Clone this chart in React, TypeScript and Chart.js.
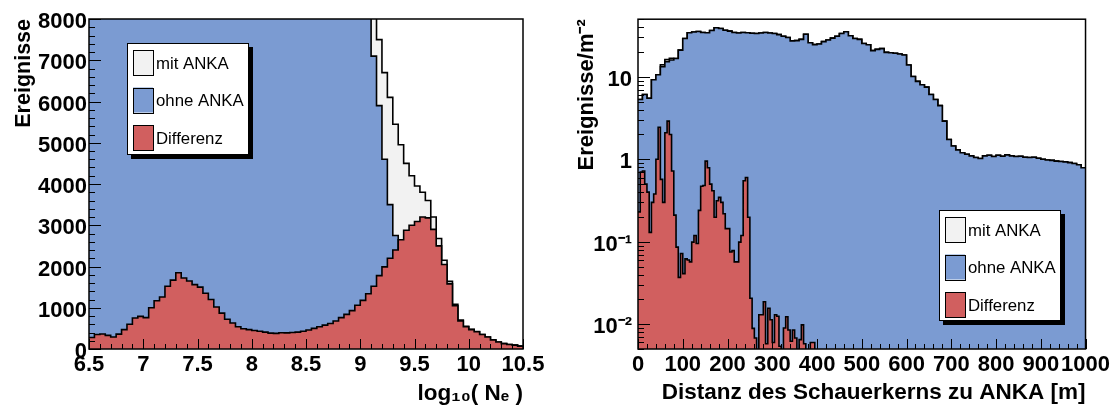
import React, { useEffect, useRef } from "react";
import { Chart, registerables } from "chart.js";

Chart.register(...registerables);

const FONT = "'Liberation Sans', Arial, Helvetica, sans-serif";

// ---------------- Left panel: log10(Ne) ----------------
const LEFT_BIN_START = 6.5;
const LEFT_BIN_WIDTH = 0.05;

const leftMitAnka = [
  52280, 54350, 55365, 55830, 55290, 54360, 52470, 50600, 48750, 46790,
  44760, 43000, 41170, 39260, 38020, 36670, 35350, 33720, 32150, 30560,
  29000, 27350, 26000, 24620, 23370, 22220, 21130, 20140, 19290, 18470,
  17750, 17030, 16410, 15785, 15180, 14695, 14190, 13700, 13210, 12830,
  12460, 12100, 11740, 11480, 11220, 10980, 10760, 10540, 10330, 10160,
  9980, 9640, 8600, 7500, 6700, 6100, 5450, 4950, 4500, 4200,
  3950, 3800, 3600, 3200, 2680, 2150, 1640, 1085, 700, 552,
  478, 425, 353, 292, 221, 171, 130, 110, 95, 70,
];

const leftOhneAnka = [
  52000, 54000, 55000, 55500, 55000, 54000, 52000, 50000, 48000, 46000,
  44000, 42000, 40000, 38000, 36500, 35000, 33500, 32000, 30500, 29000,
  27500, 26000, 24800, 23600, 22500, 21500, 20500, 19600, 18800, 18000,
  17300, 16600, 16000, 15400, 14800, 14300, 13800, 13300, 12800, 12400,
  12000, 11600, 11200, 10900, 10600, 10300, 10000, 9700, 9400, 9100,
  8800, 8300, 7100, 5900, 4600, 3500, 2750, 2200, 1700, 1300,
  950, 680, 470, 300, 180, 100, 60, 35, 20, 12,
  8, 5, 3, 2, 1, 1, 0, 0, 0, 0,
];

const leftDifferenz = [
  280, 350, 365, 330, 290, 360, 470, 600, 750, 790,
  760, 1000, 1170, 1260, 1520, 1670, 1850, 1720, 1650, 1560,
  1500, 1350, 1200, 1020, 870, 720, 630, 540, 490, 470,
  450, 430, 410, 385, 380, 395, 390, 400, 410, 430,
  460, 500, 540, 580, 620, 680, 760, 840, 930, 1060,
  1180, 1340, 1520, 1780, 1990, 2200, 2400, 2650, 2880, 3000,
  3090, 3200, 3180, 2900, 2500, 2050, 1580, 1050, 680, 540,
  470, 420, 350, 290, 220, 170, 130, 110, 95, 70,
];

const LEFT_X_TICKS = [6.5, 7, 7.5, 8, 8.5, 9, 9.5, 10, 10.5];
const LEFT_Y_TICKS = [0, 1000, 2000, 3000, 4000, 5000, 6000, 7000, 8000];

// ---------------- Right panel: distance to ANKA ----------------
const RIGHT_COARSE_BIN_WIDTH = 10;
const RIGHT_FINE_BIN_WIDTH = 5;

const rightMitAnka = [
  5.3, 6.1, 5.5, 9.2, 10.6, 14.0, 16.2, 16.8, 16.7, 21.1,
  29.2, 34.2, 35.0, 35.5, 34.5, 34.2, 36.5, 39.4, 38.5, 36.7,
  35.8, 34.5, 34.0, 34.5, 34.2, 33.8, 33.6, 34.0, 34.5, 34.0,
  33.6, 32.5, 31.0, 30.0, 27.3, 27.5, 28.5, 32.9, 25.9, 24.6,
  25.0, 26.7, 28.0, 29.5, 31.1, 33.5, 35.2, 31.5, 29.2, 28.5,
  25.4, 24.5, 20.8, 21.5, 22.0, 19.8, 19.6, 19.3, 18.9, 18.4,
  13.9, 10.1, 8.8, 8.0, 7.5, 6.1, 5.3, 4.47, 2.9, 1.74,
  1.45, 1.30, 1.20, 1.15, 1.10, 1.05, 1.02, 1.10, 1.12, 1.08,
  1.12, 1.09, 1.13, 1.10, 1.08, 1.09, 1.06, 1.05, 1.06, 1.03,
  1.00, 0.98, 0.97, 0.95, 0.94, 0.93, 0.91, 0.89, 0.86, 0.79,
];

const rightOhneAnka = [
  5.3, 6.1, 5.5, 9.2, 10.6, 13.3, 15.3, 16.0, 16.7, 21.1,
  29.2, 34.2, 35.0, 35.5, 34.5, 34.2, 36.5, 39.4, 38.5, 36.7,
  35.8, 34.5, 34.0, 34.5, 34.2, 33.8, 33.6, 34.0, 34.5, 34.0,
  33.6, 32.5, 31.0, 30.0, 27.3, 27.5, 28.5, 32.9, 25.9, 24.6,
  25.0, 26.7, 28.0, 29.5, 31.1, 33.5, 35.2, 31.5, 29.2, 28.5,
  25.4, 24.5, 20.8, 21.5, 22.0, 19.8, 19.6, 19.3, 18.9, 18.4,
  13.9, 10.1, 8.8, 8.0, 7.5, 6.1, 5.3, 4.47, 2.9, 1.74,
  1.45, 1.30, 1.20, 1.15, 1.10, 1.05, 1.02, 1.10, 1.12, 1.08,
  1.12, 1.09, 1.13, 1.10, 1.08, 1.09, 1.06, 1.05, 1.06, 1.03,
  1.00, 0.98, 0.97, 0.95, 0.94, 0.93, 0.91, 0.89, 0.86, 0.79,
];

const rightDifferenz = [
  0.23, 0.70, 0.72, 0.50, 0.40, 0.13, 0.30, 0.38, 1.0, 2.45,
  0.57, 0.30, 2.1, 2.9, 2.0, 0.72, 0.21, 0.086, 0.037, 0.072,
  0.041, 0.062, 0.060, 0.057, 0.099, 0.119, 0.095, 0.24, 0.47, 0.48,
  0.95, 0.79, 0.50, 0.415, 0.198, 0.314, 0.345, 0.30, 0.218, 0.144,
  0.144, 0.075, 0.078, 0.057, 0.057, 0.099, 0.119, 0.548, 0.60, 0.198,
  0.0206, 0.0089, 0.0068, 0.004, 0.013, 0.013, 0.0187, 0.0058, 0.0156, 0.0113,
  0.006, 0.013, 0.0125, 0.0054, 0.003, 0.009, 0.0123, 0.0085, 0.0062, 0.0085,
  0.0068, 0.004, 0.0065, 0.0098, 0.0058, 0.004, 0.003, 0.006, 0.006, 0.003,
];

const RIGHT_X_TICKS = [0, 100, 200, 300, 400, 500, 600, 700, 800, 900, 1000];
const RIGHT_Y_TICKS = [0.01, 0.1, 1, 10];
const RIGHT_Y_LABELS = ["10\u207B\u00B2", "10\u207B\u00B9", "1", "10"];

const SERIES_LABELS = ["mit ANKA", "ohne ANKA", "Differenz"];
const SERIES_COLORS = ["#f2f2f2", "#7b9bd2", "#d15f5f"];

type Pt = { x: number; y: number };

function histPoints(values: number[], start: number, width: number): Pt[] {
  const pts = values.map((v, i) => ({ x: start + i * width, y: v }));
  pts.push({ x: start + values.length * width, y: values[values.length - 1] });
  return pts;
}

function histDataset(label: string, color: string, data: Pt[]) {
  return {
    label,
    data,
    stepped: true,
    fill: "start",
    backgroundColor: color,
    borderColor: "#000",
    borderWidth: 1.6,
    pointRadius: 0,
    tension: 0,
    clip: 0,
  };
}

type FrameOpts = {
  xMajor: number[];
  xMinor: number[];
  yMajor: number[];
  yMinor: number[];
  xMajorLen: number;
  xMinorLen: number;
  yMajorLen: number;
  yMinorLen: number;
  legend: { x: number; y: number; w: number; h: number };
};

function makeFramePlugin(o: FrameOpts) {
  return {
    id: "rootFrame",
    afterDatasetsDraw(chart: any) {
      const { ctx, chartArea: a } = chart;
      const xs = chart.scales.x;
      const ys = chart.scales.y;
      ctx.save();
      ctx.strokeStyle = "#000";
      ctx.lineWidth = 1;
      ctx.beginPath();
      const xTick = (v: number, len: number) => {
        const p = Math.round(xs.getPixelForValue(v)) + 0.5;
        ctx.moveTo(p, a.bottom);
        ctx.lineTo(p, a.bottom - len);
      };
      const yTick = (v: number, len: number) => {
        const p = Math.round(ys.getPixelForValue(v)) + 0.5;
        ctx.moveTo(a.left, p);
        ctx.lineTo(a.left + len, p);
      };
      o.xMinor.forEach((v) => xTick(v, o.xMinorLen));
      o.xMajor.forEach((v) => xTick(v, o.xMajorLen));
      o.yMinor.forEach((v) => yTick(v, o.yMinorLen));
      o.yMajor.forEach((v) => yTick(v, o.yMajorLen));
      ctx.stroke();
      ctx.lineWidth = 1.5;
      ctx.strokeRect(a.left, a.top, a.right - a.left, a.bottom - a.top);
      ctx.restore();
    },
    afterDraw(chart: any) {
      const ctx = chart.ctx;
      const L = o.legend;
      ctx.save();
      ctx.fillStyle = "#000";
      ctx.fillRect(L.x + 4, L.y + 4, L.w, L.h);
      ctx.fillStyle = "#fff";
      ctx.fillRect(L.x, L.y, L.w, L.h);
      ctx.strokeStyle = "#000";
      ctx.lineWidth = 1;
      ctx.strokeRect(L.x + 0.5, L.y + 0.5, L.w - 1, L.h - 1);
      ctx.font = `16.8px ${FONT}`;
      ctx.textBaseline = "middle";
      ctx.textAlign = "left";
      SERIES_LABELS.forEach((label, i) => {
        const sy = L.y + 7 + i * 37.5;
        ctx.fillStyle = SERIES_COLORS[i];
        ctx.fillRect(L.x + 6, sy, 20, 25);
        ctx.strokeStyle = "#000";
        ctx.strokeRect(L.x + 6.5, Math.round(sy) + 0.5, 20, 25);
        ctx.fillStyle = "#000";
        ctx.fillText(label, L.x + 29, sy + 14);
      });
      ctx.restore();
    },
  };
}

function stepValues(min: number, max: number, step: number): number[] {
  const out: number[] = [];
  const n = Math.round((max - min) / step);
  for (let k = 0; k <= n; k++) out.push(min + k * step);
  return out;
}

function logMinors(min: number, max: number): number[] {
  const out: number[] = [];
  for (let e = -3; e <= 2; e++) {
    for (let m = 1; m <= 9; m++) {
      const v = m * Math.pow(10, e);
      if (v >= min && v <= max) out.push(v);
    }
  }
  return out;
}

const tickFont = { family: FONT, size: 22, weight: "bold" as const };

function buildLeft(): any {
  return {
    type: "line",
    data: {
      datasets: [
        histDataset(SERIES_LABELS[2], SERIES_COLORS[2], histPoints(leftDifferenz, LEFT_BIN_START, LEFT_BIN_WIDTH)),
        histDataset(SERIES_LABELS[1], SERIES_COLORS[1], histPoints(leftOhneAnka, LEFT_BIN_START, LEFT_BIN_WIDTH)),
        histDataset(SERIES_LABELS[0], SERIES_COLORS[0], histPoints(leftMitAnka, LEFT_BIN_START, LEFT_BIN_WIDTH)),
      ],
    },
    options: {
      responsive: true,
      maintainAspectRatio: false,
      animation: false,
      devicePixelRatio: 1,
      events: [],
      layout: { padding: { top: 19, right: 33, bottom: 0, left: 0 } },
      plugins: { legend: { display: false }, tooltip: { enabled: false } },
      scales: {
        x: {
          type: "linear",
          min: 6.5,
          max: 10.5,
          afterFit: (s: any) => { s.height = 66; },
          afterBuildTicks: (s: any) => { s.ticks = LEFT_X_TICKS.map((v) => ({ value: v })); },
          grid: { display: false, drawTicks: false },
          border: { display: false },
          ticks: { font: tickFont, color: "#000", padding: 3, maxRotation: 0, autoSkip: false, callback: (v: number) => String(v) },
          title: {
            display: true,
            text: "log\u2081\u2080( N\u2091 )",
            align: "end",
            color: "#000",
            font: { family: FONT, size: 22.5, weight: "bold" },
            padding: { top: 0, bottom: 8 },
          },
        },
        y: {
          type: "linear",
          min: 0,
          max: 8000,
          afterFit: (s: any) => { s.width = 89; },
          afterBuildTicks: (s: any) => { s.ticks = LEFT_Y_TICKS.map((v) => ({ value: v })); },
          grid: { display: false, drawTicks: false },
          border: { display: false },
          ticks: { font: tickFont, color: "#000", padding: 2, labelOffset: 3, autoSkip: false, callback: (v: number) => String(v) },
          title: {
            display: true,
            text: "Ereignisse",
            align: "end",
            color: "#000",
            font: { family: FONT, size: 21.5, weight: "bold" },
            padding: { top: 11, bottom: 0 },
          },
        },
      },
    },
    plugins: [
      makeFramePlugin({
        xMajor: LEFT_X_TICKS,
        xMinor: stepValues(6.5, 10.5, 0.1),
        yMajor: LEFT_Y_TICKS,
        yMinor: stepValues(0, 8000, 200),
        xMajorLen: 10,
        xMinorLen: 5,
        yMajorLen: 12,
        yMinorLen: 6,
        legend: { x: 127, y: 43, w: 122, h: 112 },
      }),
    ],
  };
}

function buildRight(): any {
  const yMin = 0.005;
  const yMax = 50;
  return {
    type: "line",
    data: {
      datasets: [
        histDataset(SERIES_LABELS[2], SERIES_COLORS[2], histPoints(rightDifferenz, 0, RIGHT_FINE_BIN_WIDTH)),
        histDataset(SERIES_LABELS[1], SERIES_COLORS[1], histPoints(rightOhneAnka, 0, RIGHT_COARSE_BIN_WIDTH)),
        histDataset(SERIES_LABELS[0], SERIES_COLORS[0], histPoints(rightMitAnka, 0, RIGHT_COARSE_BIN_WIDTH)),
      ],
    },
    options: {
      responsive: true,
      maintainAspectRatio: false,
      animation: false,
      devicePixelRatio: 1,
      events: [],
      layout: { padding: { top: 19, right: 25, bottom: 0, left: 0 } },
      plugins: { legend: { display: false }, tooltip: { enabled: false } },
      scales: {
        x: {
          type: "linear",
          min: 0,
          max: 1000,
          afterFit: (s: any) => { s.height = 66; },
          afterBuildTicks: (s: any) => { s.ticks = RIGHT_X_TICKS.map((v) => ({ value: v })); },
          grid: { display: false, drawTicks: false },
          border: { display: false },
          ticks: { font: tickFont, color: "#000", padding: 3, maxRotation: 0, autoSkip: false, callback: (v: number) => String(v) },
          title: {
            display: true,
            text: "Distanz des Schauerkerns zu ANKA [m]",
            align: "end",
            color: "#000",
            font: { family: FONT, size: 22.5, weight: "bold" },
            padding: { top: 0, bottom: 9 },
          },
        },
        y: {
          type: "logarithmic",
          min: yMin,
          max: yMax,
          afterFit: (s: any) => { s.width = 82; },
          afterBuildTicks: (s: any) => { s.ticks = RIGHT_Y_TICKS.map((v) => ({ value: v })); },
          grid: { display: false, drawTicks: false },
          border: { display: false },
          ticks: {
            font: tickFont,
            color: "#000",
            padding: 6,
            labelOffset: 3,
            autoSkip: false,
            callback: (_v: number, i: number) => RIGHT_Y_LABELS[i],
          },
          title: {
            display: true,
            text: "Ereignisse/m\u207B\u00B2",
            align: "end",
            color: "#000",
            font: { family: FONT, size: 22, weight: "bold" },
            padding: { top: 18, bottom: 0 },
          },
        },
      },
    },
    plugins: [
      makeFramePlugin({
        xMajor: RIGHT_X_TICKS,
        xMinor: stepValues(0, 1000, 20),
        yMajor: RIGHT_Y_TICKS,
        yMinor: logMinors(yMin, yMax),
        xMajorLen: 10,
        xMinorLen: 5,
        yMajorLen: 12,
        yMinorLen: 6,
        legend: { x: 383, y: 210, w: 122, h: 111 },
      }),
    ],
  };
}

function Panel({ left, width, build }: { left: number; width: number; build: () => any }) {
  const ref = useRef<HTMLCanvasElement | null>(null);
  useEffect(() => {
    if (!ref.current) return;
    const chart = new Chart(ref.current, build());
    return () => chart.destroy();
  }, [build]);
  return (
    <div style={{ position: "absolute", left, top: 0, width, height: 415 }}>
      <canvas ref={ref} />
    </div>
  );
}

export default function App() {
  return (
    <div style={{ position: "absolute", left: 0, top: 0, width: 1113, height: 415, background: "#fff", overflow: "hidden" }}>
      <Panel left={0} width={556} build={buildLeft} />
      <Panel left={556} width={557} build={buildRight} />
    </div>
  );
}
